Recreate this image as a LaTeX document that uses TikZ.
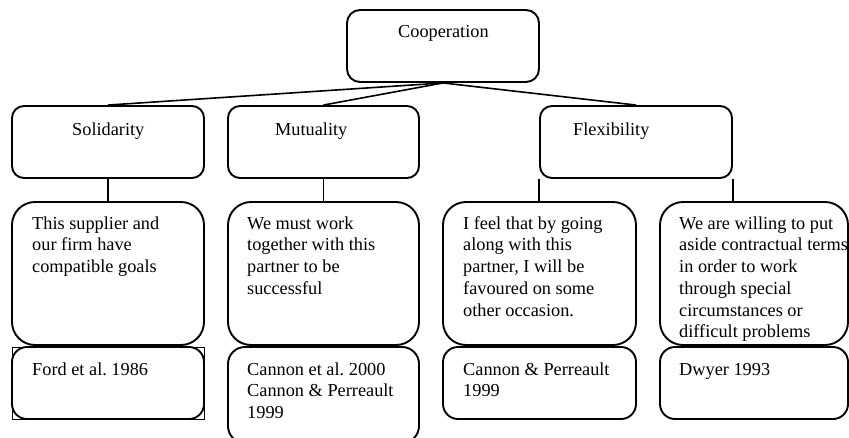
\documentclass[tikz,border=0pt]{standalone}
\usepackage{fontspec}
\setmainfont{Liberation Serif}
\frenchspacing
\begin{document}
\begin{tikzpicture}[x=1pt,y=-1pt,
  box/.style={draw, line width=1.9pt, rounded corners=#1, inner sep=0pt, minimum width=192pt},
  box/.default=12pt,
  link/.style={line width=1.6pt},
  txt/.style={anchor=north west, inner sep=0pt, align=left,
    font=\fontsize{18.3pt}{21.7pt}\selectfont}
]
\useasboundingbox (0,0) rectangle (849,437);

% top level
\node[box=13pt, minimum height=72pt] (coop) at (443,46) {};
\node[txt] (tcoop) at (398,37-15.19) {\strut Cooperation};

% second level: the three dimensions
\node[box, minimum height=72pt] (sol) at (108,142) {};
\node[box, minimum height=72pt, minimum width=191pt] (mut) at (323.5,142) {};
\node[box, minimum height=72pt] (flex) at (636,142) {};
\node[txt] (tsol) at (72,135-15.19) {\strut Solidarity};
\node[txt] (tmut) at (275,135-15.19) {\strut Mutuality};
\node[txt] (tflex) at (573,135-15.19) {\strut Flexibility};

% third level: scale items
\node[box=23pt, minimum height=143pt] (st1) at (108,273.5) {};
\node[box=23pt, minimum height=143pt, minimum width=191pt] (st2) at (323.5,273.5) {};
\node[box=23pt, minimum height=143pt, minimum width=193pt] (st3) at (539.5,273.5) {};
\node[box=23pt, minimum height=143pt, minimum width=188pt] (st4) at (754,273.5) {};
\node[txt] (tst1) at (32,229-15.19) {\strut This supplier and\\our firm have\\compatible goals};
\node[txt] (tst2) at (247,229-15.19) {\strut We must work\\together with this\\partner to be\\successful};
\node[txt] (tst3) at (463,229-15.19) {\strut I feel that by going\\along with this\\partner, I will be\\favoured on some\\other occasion.};
\node[txt] (tst4) at (679,229-15.19) {\strut We are willing to put\\aside contractual terms\\in order to work\\through special\\circumstances or\\difficult problems};

% fourth level: sources
\node[draw, line width=0.8pt, minimum width=192pt, minimum height=72pt, inner sep=0pt] (ref1frame) at (108,383) {};
\node[box=15pt, minimum height=72pt] (ref1) at (108,383) {};
\node[box=17pt, minimum height=96pt, minimum width=191pt] (ref2) at (323.5,395) {};
\node[box=15pt, minimum height=72pt, minimum width=193pt] (ref3) at (539.5,383) {};
\node[box=15pt, minimum height=72pt, minimum width=188pt] (ref4) at (754,383) {};
\node[txt] (tref1) at (32,375-15.19) {\strut Ford et al. 1986};
\node[txt] (tref2) at (247,375-15.19) {\strut Cannon et al. 2000\\Cannon \& Perreault\\1999};
\node[txt] (tref3) at (463,375-15.19) {\strut Cannon \& Perreault\\1999};
\node[txt] (tref4) at (679,375-15.19) {\strut Dwyer 1993};

% connectors
\draw[link] (coop.south) -- (sol.north);
\draw[link] (coop.south) -- (mut.north);
\draw[link] (coop.south) -- (flex.north);
\draw[link] (sol.south) -- (st1.north);
\draw[link] (mut.south) -- (st2.north);
\draw[link] (flex.south west) -- (flex.south west |- st3.north);
\draw[link] (flex.south east) -- (flex.south east |- st4.north);
\end{tikzpicture}
\end{document}
